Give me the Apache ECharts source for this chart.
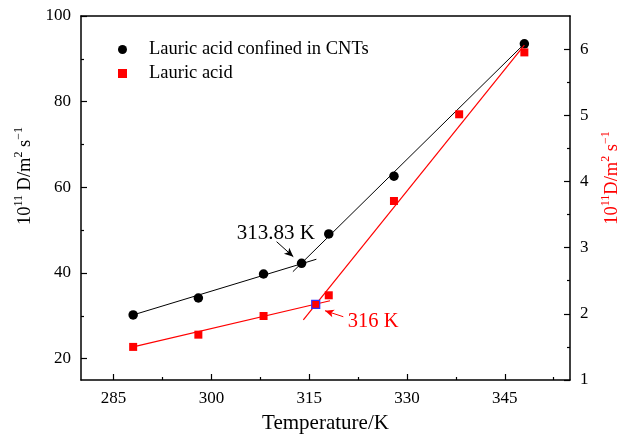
<!DOCTYPE html>
<html>
<head>
<meta charset="utf-8">
<script src="https://cdn.jsdelivr.net/npm/echarts@6/dist/echarts.min.js"></script>
<style>html,body{margin:0;padding:0;background:#fff;}#c{width:623px;height:440px;}</style>
</head>
<body>
<div id="c"></div>
<script>
// ---- data ----
const cntTemps = [288, 298, 308, 313.83, 318, 328, 348];
const cntValues = [30.2, 34.15, 39.75, 42.25, 49.1, 62.6, 93.5];
const laTemps = [288, 298, 308, 318, 328, 338, 348];
const laValues = [1.50, 1.685, 1.967, 2.28, 3.705, 5.015, 5.95];
const cntFitLow = [[288, 30.2], [316.1, 43.2]];
const cntFitHigh = [[312.5, 40.3], [348, 93.5]];
const laFitLow = [[288, 1.50], [318.2, 2.198]];
const laFitHigh = [[314.1, 1.907], [348, 6.06]];
const laCross = [[316, 2.144]];
const xTicks = [285, 300, 315, 330, 345];
const xMinor = [292.5, 307.5, 322.5, 337.5, 352.5];
const yLeftTicks = [20, 40, 60, 80, 100];
const yLeftMinor = [30, 50, 70, 90];
const yRightTicks = [1, 2, 3, 4, 5, 6];
const yRightMinor = [1.5, 2.5, 3.5, 4.5, 5.5];
const seriesNames = ['Lauric acid confined in CNTs', 'Lauric acid'];
const annotCnt = { text: '313.83 K', at: [309.9, 49.3], arrow: [[310.0, 47.3], [312.56, 43.8]] };
const annotLa = { text: '316 K', at: [324.8, 1.876], arrow: [[320.23, 1.956], [317.42, 2.047]] };

const FONT = '"Liberation Serif", "Times New Roman", serif';
const chart = echarts.init(document.getElementById('c'), null, { renderer: 'canvas' });
const zip = (a, b) => a.map((v, i) => [v, b[i]]);

const baseX = { type: 'value', min: 280, max: 355, splitLine: { show: false } };
const lineStyle = { color: '#000', width: 1.5 };

function nameRich(color, size) {
  return {
    n: { fontSize: size, fontFamily: FONT, color: color, lineHeight: 22, verticalAlign: 'bottom' },
    s: { fontSize: 12, fontFamily: FONT, color: color, lineHeight: 12, verticalAlign: 'top' }
  };
}

const option = {
  animation: false,
  backgroundColor: '#fff',
  grid: { left: 81, right: 53, top: 16, bottom: 60, containLabel: false, outerBoundsMode: 'none' },
  legend: {
    orient: 'vertical', left: 113, top: 35, itemGap: 5, itemWidth: 9, itemHeight: 9,
    data: seriesNames,
    formatter: '{t|{name}}',
    textStyle: { fontFamily: FONT, fontSize: 18.5, color: '#000',
      rich: { t: { fontFamily: FONT, fontSize: 18.5, color: '#000', lineHeight: 20, padding: [0, 0, 0, 17] } } }
  },
  xAxis: [
    Object.assign({}, baseX, {
      position: 'bottom',
      axisLine: { show: true, lineStyle: lineStyle },
      axisTick: { show: true, inside: true, length: 6, customValues: xTicks, lineStyle: { color: '#000', width: 1.2 } },
      axisLabel: { customValues: xTicks, fontFamily: FONT, fontSize: 17, color: '#000', margin: 10 },
      name: 'Temperature/K', nameLocation: 'middle', nameGap: 33,
      nameTextStyle: { fontFamily: FONT, fontSize: 21, color: '#000' }
    }),
    Object.assign({}, baseX, {
      position: 'bottom',
      axisLine: { show: false },
      axisTick: { show: true, inside: true, length: 3, customValues: xMinor, lineStyle: { color: '#000', width: 1.2 } },
      axisLabel: { show: false }
    }),
    Object.assign({}, baseX, {
      position: 'top',
      axisLine: { show: true, lineStyle: lineStyle },
      axisTick: { show: false }, axisLabel: { show: false }
    })
  ],
  yAxis: [
    {
      type: 'value', min: 15, max: 100, position: 'left', splitLine: { show: false },
      axisLine: { show: true, lineStyle: lineStyle },
      axisTick: { show: true, inside: true, length: 6, customValues: yLeftTicks, lineStyle: { color: '#000', width: 1.2 } },
      axisLabel: { customValues: yLeftTicks, fontFamily: FONT, fontSize: 17, color: '#000', margin: 10 },
      name: '{n|10}{s|11}{n| D/m}{s|2}{n| s}{s|−1}', nameLocation: 'middle', nameGap: 46,
      nameTextStyle: { padding: [0, 0, 0, 44], rich: nameRich('#000', 18.5) }
    },
    {
      type: 'value', min: 15, max: 100, position: 'left', splitLine: { show: false },
      axisLine: { show: false },
      axisTick: { show: true, inside: true, length: 3, customValues: yLeftMinor, lineStyle: { color: '#000', width: 1.2 } },
      axisLabel: { show: false }
    },
    {
      type: 'value', min: 1, max: 6.5, position: 'right', splitLine: { show: false },
      axisLine: { show: true, lineStyle: lineStyle },
      axisTick: { show: true, inside: true, length: 6, customValues: yRightTicks, lineStyle: { color: '#000', width: 1.2 } },
      axisLabel: { customValues: yRightTicks, fontFamily: FONT, fontSize: 17, color: '#000', margin: 10 },
      name: '{n|10}{s|11}{n|D/m}{s|2}{n| s}{s|−1}', nameLocation: 'middle', nameGap: 26,
      nameTextStyle: { padding: [0, 0, 0, 40], rich: nameRich('#ff0000', 18.5) }
    },
    {
      type: 'value', min: 1, max: 6.5, position: 'right', splitLine: { show: false },
      axisLine: { show: false },
      axisTick: { show: true, inside: true, length: 3, customValues: yRightMinor, lineStyle: { color: '#000', width: 1.2 } },
      axisLabel: { show: false }
    }
  ],
  series: [
    { type: 'line', data: cntFitLow, yAxisIndex: 0, symbol: 'none', silent: true, lineStyle: { color: '#000', width: 1 }, z: 2 },
    { type: 'line', data: cntFitHigh, yAxisIndex: 0, symbol: 'none', silent: true, lineStyle: { color: '#000', width: 1 }, z: 2,
      markLine: { silent: true, symbol: ['none', 'arrow'], symbolSize: [6, 9], lineStyle: { color: '#000', width: 1, type: 'solid' },
        label: { show: false }, data: [[{ coord: annotCnt.arrow[0] }, { coord: annotCnt.arrow[1] }]] } },
    { name: seriesNames[0], type: 'scatter', data: zip(cntTemps, cntValues), yAxisIndex: 0, symbol: 'circle', symbolSize: 9.5,
      itemStyle: { color: '#000', opacity: 1 }, z: 3 },
    { type: 'line', data: laFitLow, yAxisIndex: 2, symbol: 'none', silent: true, lineStyle: { color: '#ff0000', width: 1.2 }, z: 4 },
    { type: 'line', data: laFitHigh, yAxisIndex: 2, symbol: 'none', silent: true, lineStyle: { color: '#ff0000', width: 1.2 }, z: 4,
      markLine: { silent: true, symbol: ['none', 'arrow'], symbolSize: [6, 9], lineStyle: { color: '#ff0000', width: 1, type: 'solid' },
        label: { show: false }, data: [[{ coord: annotLa.arrow[0] }, { coord: annotLa.arrow[1] }]] } },
    { name: seriesNames[1], type: 'scatter', data: zip(laTemps, laValues), yAxisIndex: 2, symbol: 'rect', symbolSize: 8,
      itemStyle: { color: '#ff0000', opacity: 1 }, z: 5 },
    { type: 'scatter', data: laCross, yAxisIndex: 2, symbol: 'rect', symbolSize: 8, silent: true,
      itemStyle: { color: '#ff0000', borderColor: '#3030ff', borderWidth: 1.2, opacity: 1 }, z: 6 },
    { type: 'scatter', yAxisIndex: 0, symbolSize: 0, silent: true, z: 7, itemStyle: { opacity: 1 },
      data: [[annotCnt.at[0], annotCnt.at[1], annotCnt.text]],
      label: { show: true, position: 'inside', formatter: p => p.value[2], fontFamily: FONT, fontSize: 21, color: '#000', opacity: 1 } },
    { type: 'scatter', yAxisIndex: 2, symbolSize: 0, silent: true, z: 7, itemStyle: { opacity: 1 },
      data: [[annotLa.at[0], annotLa.at[1], annotLa.text]],
      label: { show: true, position: 'inside', formatter: p => p.value[2], fontFamily: FONT, fontSize: 20.5, color: '#ff0000', opacity: 1 } }
  ]
};
chart.setOption(option);
</script>
</body>
</html>
